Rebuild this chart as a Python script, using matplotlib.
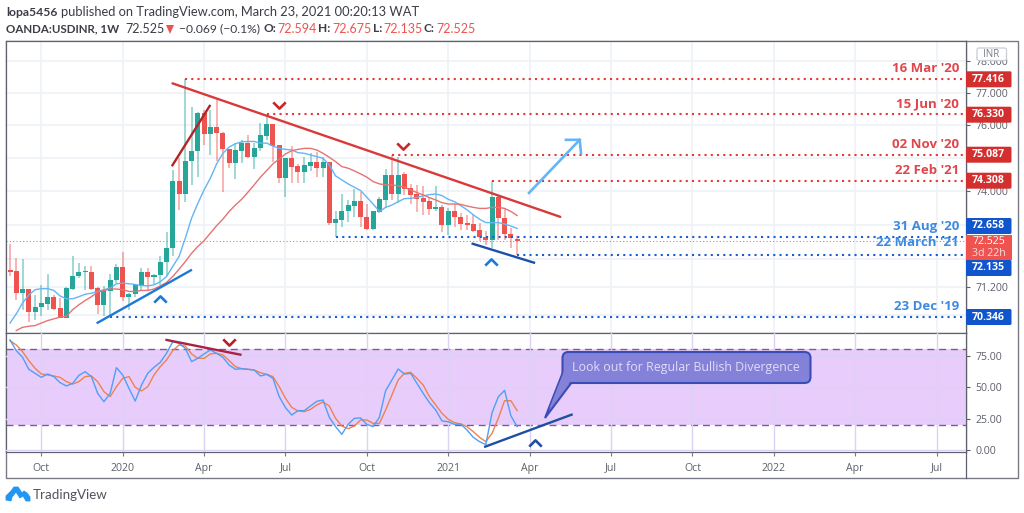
import numpy as np
import matplotlib
matplotlib.use("Agg")
import matplotlib.pyplot as plt
from matplotlib.patches import Rectangle, FancyBboxPatch, Polygon
from matplotlib.path import Path
from matplotlib.transforms import Affine2D

# ---------- data ----------
opens = [71.69,71.66,71.02,71.14,70.48,70.64,70.72,70.92,70.60,70.31,71.15,71.50,71.62,71.64,71.17,70.67,71.07,71.40,71.77,70.92,
         71.00,71.24,71.64,71.48,71.55,71.91,72.32,74.32,73.92,74.92,75.20,76.38,75.73,75.93,75.77,75.26,74.86,75.22,75.46,75.04,
         75.29,75.67,76.04,75.39,74.39,74.99,74.76,74.57,74.77,74.87,74.71,74.87,73.07,73.15,73.41,73.56,73.70,73.25,72.88,73.39,
         73.74,74.48,73.91,74.51,74.09,73.91,73.81,73.70,73.48,73.54,73.01,73.40,73.25,73.05,73.03,72.84,72.64,72.56,73.84,73.20,
         72.74,72.594]
highs = [72.44,72.03,72.00,71.14,70.97,71.26,71.58,70.97,70.88,71.21,72.08,71.89,71.79,71.79,71.21,71.23,71.57,71.86,72.22,71.04,
         71.29,71.74,71.74,71.58,72.08,72.78,74.64,74.99,77.416,76.56,76.41,76.46,76.46,76.79,75.80,75.26,75.45,75.55,75.70,75.45,
         76.06,76.33,76.04,75.39,74.99,75.36,74.82,75.04,75.16,75.19,75.04,74.88,73.40,73.92,73.74,74.06,73.99,73.62,73.40,73.84,
         74.66,75.087,75.02,74.59,74.22,74.19,74.16,73.84,74.16,73.59,73.49,73.62,73.35,73.30,73.30,73.05,72.81,74.308,73.89,73.49,
         72.90,72.675]
lows = [71.50,70.83,70.53,70.21,70.26,70.38,70.55,70.53,70.31,70.31,71.10,71.45,71.10,71.12,70.43,70.36,70.36,71.31,70.81,70.55,
        70.90,71.10,71.07,71.26,71.26,71.50,72.08,73.45,73.69,74.19,74.42,75.39,75.09,74.92,73.97,74.69,74.37,74.86,74.99,74.66,
        75.22,75.55,74.89,74.26,73.84,74.24,74.24,74.26,74.62,74.42,74.44,73.00,72.658,72.95,73.10,73.23,72.95,72.86,72.86,73.35,
        73.54,73.74,73.64,73.89,73.62,73.37,73.30,73.30,73.42,72.78,72.71,72.95,72.86,72.84,72.78,72.54,72.42,72.32,72.56,72.56,
        72.32,72.135]
closes = [71.64,71.02,71.14,70.48,70.64,70.74,70.92,70.57,70.31,71.17,71.52,71.64,71.64,71.15,70.67,71.10,71.40,71.77,70.92,71.00,
          71.25,71.64,71.48,71.55,71.91,72.32,74.32,73.92,74.92,75.20,76.38,75.73,75.93,75.75,75.26,74.86,75.24,75.46,75.04,75.29,
          75.69,76.04,75.36,74.41,74.99,74.74,74.57,74.79,74.87,74.71,74.87,73.07,73.17,73.42,73.58,73.70,73.23,72.88,73.40,73.76,
          74.48,73.91,74.50,74.06,73.89,73.77,73.69,73.48,73.52,73.01,73.40,73.25,73.03,73.01,72.81,72.64,72.56,73.82,73.20,72.74,
          72.61,72.525]
ma_fast = [70.17,70.43,70.74,70.97,71.12,71.15,71.15,71.10,70.94,70.86,70.86,70.92,70.99,71.02,71.07,71.12,71.17,71.29,71.31,71.29,
           71.27,71.24,71.23,71.26,71.35,71.50,71.79,72.08,72.61,73.20,73.64,74.04,74.39,74.82,75.14,75.33,75.43,75.49,75.50,75.50,
           75.45,75.45,75.36,75.29,75.26,75.24,75.16,75.14,75.09,75.04,74.99,74.79,74.46,74.34,74.22,74.12,74.02,73.82,73.62,73.40,
           73.52,73.59,73.69,73.78,73.79,73.82,73.86,73.90,73.92,73.87,73.76,73.69,73.57,73.45,73.30,73.17,73.07,73.07,73.07,73.03,
           72.97,72.90]
ma_slow = [69.96,70.05,70.08,70.10,70.17,70.24,70.29,70.34,70.36,70.55,70.69,70.81,70.92,71.05,71.10,71.14,71.14,71.12,71.07,71.07,
           71.10,71.10,71.14,71.23,71.33,71.50,71.71,71.93,72.17,72.37,72.54,72.76,72.98,73.17,73.40,73.59,73.76,73.97,74.19,74.42,
           74.62,74.82,74.97,75.12,75.22,75.26,75.29,75.29,75.24,75.14,75.02,74.89,74.74,74.69,74.61,74.52,74.42,74.29,74.22,74.19,
           74.19,74.16,74.12,74.04,73.96,73.89,73.81,73.74,73.66,73.62,73.62,73.61,73.56,73.52,73.49,73.49,73.52,73.52,73.49,73.40,
           73.28]
stoch_k = [87.5,79,73.7,64.2,61,57.8,60.5,58.4,53.6,51,53,59.4,62.3,58.4,45.1,38.5,45.1,65.5,59.7,49.1,
           39,51.7,61,65.8,69.7,76.9,86.1,84.8,80.8,70.3,72.9,76.4,79.5,76.9,73.7,67.6,64.2,64.7,64.2,63.6,
           58.9,60.2,57,42.5,33.8,27.9,31.4,31.4,35.1,38.8,39.8,26.1,18.7,12.6,20.5,25.3,25.6,20.5,18.7,26.1,
           47.3,55.7,64.4,60.5,61,53,45.1,37.7,31.9,23.2,22.6,20.5,20.8,16,10.2,6.8,4.4,29.8,42.4,47.5,
           27.4,18.7]
stoch_d = [86.9,83.5,78.2,71.1,65,60.5,59.7,58.9,57.8,54.4,52.5,54.4,58.4,58.9,54.4,46.5,42.5,50.4,57,58.4,
           49.9,47,50.4,59.7,66.3,71.6,79,83.5,82.7,76.4,72.9,72.9,76.4,76.9,75.6,71.1,66.3,64.7,64.2,63.6,
           61.5,60.2,58.4,50.4,41.2,34,31.1,30.6,32.4,35.9,38.3,35.1,25.3,19.2,17.1,19.2,24,24,21.3,21.3,
           31.9,43.8,55.7,61,61.8,57,51.7,42.4,35.9,29.3,24.5,21.9,20.8,18.7,14.7,10.2,6.8,13.4,25.3,39.3,
           39.3,31.4]
month_weeks = [5,18,31,44,57,70,83,96,109,122,135,148]
month_labels = ['Oct','2020','Apr','Jul','Oct','2021','Apr','Jul','Oct','2022','Apr','Jul']
price_grid = [78,77,76,75,74,73,72,71.2,70.4]
price_tick_labels = ['78.000','77.000','76.000','','74.000','','','71.200','']
osc_ticks = [0,25,50,75]
osc_labels = ['0.00','25.00','50.00','75.00']
red_levels = [77.416,76.330,75.087,74.308]
red_starts = [28,41,61,77]
red_dates = ["16 Mar '20","15 Jun '20","02 Nov '20","22 Feb '21"]
blue_levels = [72.658,72.135,70.346]
blue_starts = [52,81,16]
blue_dates = ["31 Aug '20","22 March '21","23 Dec '19"]
last_price = 72.525

# ---------- layout ----------
W, H = 1024, 513
fig = plt.figure(figsize=(W/100, H/100), dpi=100, facecolor='white')
TXT = 'Open Sans'
PX = Affine2D().scale(1, -1).translate(0, H)
def axrect(x0, y0, x1, y1):
    return [x0/W, 1-y1/H, (x1-x0)/W, (y1-y0)/H]

ax = fig.add_axes(axrect(6, 41, 966, 333))
ax2 = fig.add_axes(axrect(6, 333, 966, 451.5), sharex=ax)
xs = np.arange(len(opens))
GREEN, RED = '#26a69a', '#ef5350'
GRID = '#edf2f8'

# ---------- price pane ----------
ax.set_yscale('log')
ax.set_xlim(-0.64, 152.7)
ax.set_ylim(69.89, 78.62)
ax.set_yticks(price_grid)
ax.set_yticks([], minor=True)
ax.set_yticklabels(price_tick_labels, fontsize=7.6, color='#5d606b', family=TXT)
ax.yaxis.tick_right()
ax.tick_params(axis='y', which='major', length=3, width=0.8, color='#5d606b', pad=4)
ax.tick_params(axis='y', which='minor', length=0)
ax.set_xticks(month_weeks)
ax.tick_params(axis='x', length=0, labelbottom=False)
ax.grid(True, color=GRID, lw=1.2, zorder=0)
ax.set_axisbelow(True)

colors = [GREEN if c >= o else RED for o, c in zip(opens, closes)]
ax.vlines(xs, lows, highs, colors=colors, lw=1.1, alpha=0.55, zorder=2)
bottoms = np.minimum(opens, closes)
heights = np.maximum(np.abs(np.array(closes)-np.array(opens)), 0.03)
ax.bar(xs, heights, bottom=bottoms, width=0.8, color=colors, lw=0, zorder=3)

ax.plot(xs, ma_fast, color='#64b5f6', lw=1.0, zorder=4)
ax.plot(xs[1:], ma_slow, color='#e57373', lw=1.0, zorder=4)

ax.plot([-0.64, 152.7], [last_price]*2, color='#ef5350', lw=0.8, ls=(0, (1, 2)), alpha=0.8, zorder=2)
for lv, st in zip(red_levels, red_starts):
    ax.plot([st, 152.7], [lv, lv], color='#e53935', lw=1.5, ls=(0, (1, 2)), zorder=5)
for lv, st in zip(blue_levels, blue_starts):
    ax.plot([st, 152.7], [lv, lv], color='#1a5fd0', lw=1.5, ls=(0, (1, 2)), zorder=5)

# trend lines
ax.plot([25.95, 87.9], [77.29, 73.24], color='#d83a3a', lw=1.7, zorder=6, solid_capstyle='round')
ax.plot([25.95, 31.9], [74.78, 76.59], color='#b02525', lw=1.7, zorder=6)
ax.plot([14.0, 28.9], [70.18, 71.68], color='#1e78d8', lw=1.7, zorder=6)
ax.plot([73.9, 83.7], [72.45, 71.90], color='#1c4fa8', lw=1.7, zorder=6)
# arrow
ax.plot([82.9, 91.0], [73.95, 75.55], color='#64b5f6', lw=1.9, zorder=6)
ax.plot([88.8, 91.0, 91.2], [75.55, 75.55, 75.15], color='#64b5f6', lw=1.9, zorder=6)

CHEV_D = Path([(-1, 0.5), (0, -0.5), (1, 0.5)])
CHEV_U = Path([(-1, -0.5), (0, 0.5), (1, 0.5*-1)])
ax.plot([42.95, 62.8], [76.62, 75.36], ls='', marker=CHEV_D, ms=9, mfc='none', mec='#c62828', mew=1.9, zorder=7)
ax.plot([24.0, 76.9], [70.86, 71.91], ls='', marker=CHEV_U, ms=9, mfc='none', mec='#1e78d8', mew=1.9, zorder=7)

# date labels
red_label_y = [69, 104, 144, 170]
blue_label_y = [226.5, 243, 306.5]
for s, y in zip(red_dates, red_label_y):
    fig.text(959/W, 1-y/H, s, color='#e0474c', fontsize=9.5, weight='bold', family=TXT, ha='right', va='center', zorder=8)
for s, y in zip(blue_dates, blue_label_y):
    fig.text(959/W, 1-y/H, s, color='#3d8be0', fontsize=9.5, weight='bold', family=TXT, ha='right', va='center', zorder=8)

# ---------- oscillator pane ----------
ax2.set_ylim(-1.03, 93)
ax2.axhspan(20, 80, color='#e8cdfc', lw=0, zorder=0)
ax2.set_yticks(osc_ticks)
ax2.set_yticklabels(osc_labels, fontsize=7.6, color='#5d606b', family=TXT)
ax2.yaxis.tick_right()
ax2.tick_params(axis='y', length=3, width=0.8, color='#5d606b', pad=4)
ax2.set_xticks(month_weeks)
ax2.set_xticklabels(month_labels, fontsize=7.6, color='#5d606b', family=TXT)
ax2.tick_params(axis='x', length=3, width=0.8, color='#787b86', pad=5)
ax2.grid(True, color='#dcd2f6', lw=1.0, zorder=1)
ax2.set_axisbelow(False)
for gl in ax2.get_xgridlines() + ax2.get_ygridlines():
    gl.set_zorder(1)
ax2.axhline(80, color='#7a5f8c', lw=1, ls=(0, (5, 3.5)), zorder=2)
ax2.axhline(20, color='#7a5f8c', lw=1, ls=(0, (5, 3.5)), zorder=2)
ax2.plot(xs, stoch_d, color='#f0814f', lw=1.0, zorder=3)
ax2.plot(xs, stoch_k, color='#4f9ff5', lw=1.0, zorder=4)
ax2.plot([25.0, 36.8], [87.5, 75.8], color='#ae1f44', lw=1.7, zorder=6)
ax2.plot([75.9, 89.7], [2.8, 28.2], color='#1e4fa0', lw=1.7, zorder=6)
ax2.plot([35.0], [86.1], ls='', marker=CHEV_D, ms=9, mfc='none', mec='#b3202c', mew=1.9, zorder=7)
ax2.plot([83.9], [5.7], ls='', marker=CHEV_U, ms=9, mfc='none', mec='#1e4fa0', mew=1.9, zorder=7)

for a in (ax, ax2):
    for s in a.spines.values():
        s.set_color('#5f626d')
        s.set_linewidth(0.9)
ax.set_zorder(2); ax2.set_zorder(2)

# ---------- outer frame ----------
fig.add_artist(Rectangle((6, 41), 1011.5, 437, transform=PX, fc='none', ec='#787b86', lw=1.0, zorder=1))
fig.add_artist(plt.Line2D([966, 966], [41, 478], transform=PX, color='#5f626d', lw=0.9, zorder=1))

# ---------- callout ----------
callout_fill = '#8481d9'
fig.add_artist(Polygon([(563, 372), (545, 418), (572, 382)], closed=True, transform=PX,
                       fc=callout_fill, ec='#3a4cb5', lw=1.5, zorder=9))
fig.add_artist(FancyBboxPatch((566, 355.5), 241, 24, boxstyle='round,pad=3.5,rounding_size=6', transform=PX,
                              fc=callout_fill, ec='#3a4cb5', lw=1.5, zorder=9))
fig.add_artist(Polygon([(564, 371), (549, 409), (571, 381)], closed=True, transform=PX,
                       fc=callout_fill, ec='none', zorder=10))
fig.text(686/W, 1-367/H, 'Look out for Regular Bullish Divergence', color='#e2dbfa', fontsize=8.9,
         family=TXT, ha='center', va='center', zorder=11)

# ---------- price tags ----------
tag_txt = ['77.416','76.330','75.087','74.308','72.658','72.135','70.346']
tag_y = [79.3, 114.7, 154.7, 180.7, 226, 268, 317]
tag_c = ['#d32f2f']*4 + ['#1155cc']*3
for s, y, c in zip(tag_txt, tag_y, tag_c):
    fig.add_artist(FancyBboxPatch((966, y-8), 45.5, 16, boxstyle='round,pad=0,rounding_size=1.5', transform=PX,
                                  fc=c, ec='none', zorder=12))
    fig.text(988.5/W, 1-y/H, s, color='white', fontsize=7.6, weight='bold', family=TXT, ha='center', va='center', zorder=13)
fig.add_artist(Rectangle((966, 235), 45.5, 25, transform=PX, fc='#ef5350', ec='none', zorder=12))
fig.text(988.5/W, 1-241.5/H, '72.525', color='white', fontsize=7.6, family=TXT, ha='center', va='center', zorder=13)
fig.text(988.5/W, 1-253.5/H, '3d 22h', color='#fbdcdc', fontsize=7.6, family=TXT, ha='center', va='center', zorder=13)
fig.add_artist(FancyBboxPatch((977, 48), 29.5, 12.5, boxstyle='round,pad=0,rounding_size=2', transform=PX,
                              fc='white', ec='#c9ccd4', lw=0.9, zorder=12))
fig.text(991.5/W, 1-54.5/H, 'INR', color='#787b86', fontsize=7, family=TXT, ha='center', va='center', zorder=13)

# ---------- header ----------
HF = 'Lato'
def hdr(x, y, s, color='#3a3d46', weight='normal', fs=9.0):
    fig.text(x/W, 1-y/H, s, color=color, fontsize=fs, weight=weight, family=HF, ha='left', va='center', zorder=13)
hdr(6, 12, 'lopa5456', weight='bold', fs=8.7)
hdr(61, 12, 'published on TradingView.com, March 23, 2021 00:20:13 WAT', fs=9.3)
hdr(6, 29, 'OANDA:USDINR, 1W', weight='bold', fs=8.3)
hdr(125, 29, '72.525')
fig.add_artist(Polygon([(166, 25), (174, 25), (170, 34)], closed=True, transform=PX, fc='#ef5350', ec='none', zorder=13))
hdr(179, 29, '\u22120.069 (\u22120.1%)', fs=8.7)
for x, s in [(264, 'O:'), (318, 'H:'), (373, 'L:'), (424, 'C:')]:
    hdr(x, 29, s, weight='bold', fs=8.6)
for x, s in [(277, '72.594'), (332, '72.675'), (383, '72.135'), (436, '72.525')]:
    hdr(x, 29, s, color='#ef5350', fs=9.0)

# ---------- logo ----------
logo = Polygon([(6, 500), (6, 496), (11, 491), (14, 487), (18, 487), (22, 493), (24, 491), (27, 493), (30, 497),
                (30, 501), (26, 501), (23, 496), (20, 498), (16, 492), (12, 497), (11, 501)],
               closed=True, transform=PX, fc='#2196f3', ec='#2196f3', lw=0.6, zorder=13)
fig.add_artist(logo)
fig.text(32.5/W, 1-495/H, 'TradingView', color='#50535e', fontsize=9.6, family=HF, ha='left', va='center', zorder=13)

fig.savefig('out.png', dpi=100)
